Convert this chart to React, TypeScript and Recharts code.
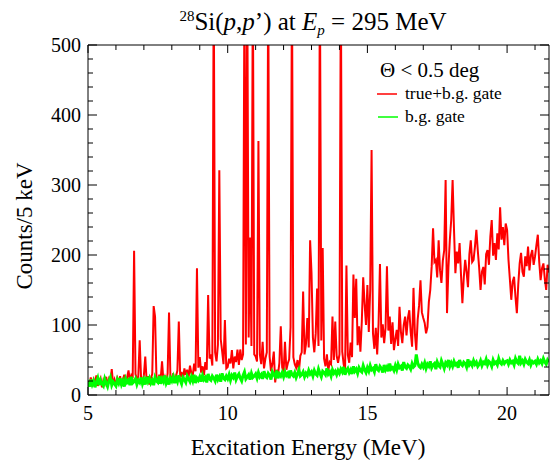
import { LineChart, Line, XAxis, YAxis } from 'recharts';

// spectrum binned in 0.05 MeV steps from 5.00 to 21.50 MeV
const E_START = 5;
const E_STEP = 0.05;

// true+b.g. gate
const redCounts = [
  20, 14, 25, 12, 22, 17, 28, 13, 19, 24, 11, 21, 16, 26, 14, 23, 18, 37, 15, 22,
  14, 24, 18, 27, 13, 22, 29, 17, 25, 35, 20, 28, 24, 206, 30, 22, 26, 78, 24, 20,
  28, 55, 19, 27, 15, 24, 30, 127, 112, 25, 18, 29, 22, 48, 20, 26, 17, 31, 118, 24,
  22, 31, 18, 27, 35, 105, 26, 33, 21, 38, 29, 36, 25, 42, 31, 28, 45, 34, 181, 39,
  54, 32, 41, 28, 47, 36, 143, 52, 58, 42, 600, 61, 48, 72, 321, 80, 63, 44, 107, 38,
  40, 52, 45, 64, 38, 55, 47, 65, 43, 65, 50, 58, 600, 72, 600, 82, 225, 70, 600, 58,
  55, 48, 363, 58, 44, 76, 38, 52, 61, 600, 55, 34, 45, 62, 18, 36, 29, 46, 98, 40,
  32, 76, 36, 45, 51, 97, 600, 54, 44, 39, 50, 34, 56, 61, 148, 58, 72, 110, 68, 221,
  174, 82, 61, 88, 152, 70, 600, 78, 210, 52, 41, 58, 35, 47, 44, 112, 50, 105, 56, 46,
  58, 600, 62, 44, 34, 185, 57, 46, 75, 54, 172, 110, 166, 71, 98, 62, 105, 168, 130, 100,
  157, 90, 150, 350, 88, 66, 96, 58, 102, 187, 82, 101, 74, 96, 184, 92, 112, 73, 104, 64,
  80, 93, 70, 126, 90, 74, 100, 112, 85, 110, 121, 90, 69, 153, 88, 64, 108, 128, 164, 118,
  110, 103, 88, 97, 133, 150, 183, 238, 190, 193, 168, 221, 178, 160, 192, 207, 307, 117, 182, 221,
  250, 307, 236, 174, 205, 188, 217, 172, 131, 168, 193, 176, 154, 201, 221, 190, 193, 212, 236, 207,
  182, 150, 176, 183, 158, 201, 207, 186, 226, 250, 199, 217, 193, 231, 208, 268, 222, 240, 214, 245,
  236, 193, 165, 136, 162, 169, 140, 117, 158, 188, 203, 176, 169, 198, 184, 212, 178, 199, 207, 186,
  198, 214, 229, 190, 164, 181, 188, 166, 150, 186, 175,
];

// b.g. gate
const greenCounts = [
  19, 12, 22, 15, 20, 11, 18, 24, 14, 21, 16, 13, 23, 17, 12, 20, 25, 14, 19, 16,
  13, 22, 17, 24, 15, 20, 12, 23, 18, 21, 14, 26, 17, 19, 23, 15, 21, 18, 25, 16,
  22, 15, 26, 19, 24, 17, 21, 14, 25, 20, 18, 27, 16, 23, 19, 28, 17, 22, 15, 24,
  20, 26, 17, 24, 19, 28, 21, 16, 25, 22, 18, 27, 23, 19, 26, 20, 29, 17, 24, 21,
  26, 19, 28, 22, 25, 18, 30, 23, 21, 27, 24, 20, 29, 22, 26, 19, 31, 24, 22, 27,
  23, 29, 21, 28, 25, 32, 22, 27, 30, 24, 20, 28, 33, 23, 26, 29, 22, 31, 25, 27,
  30, 24, 32, 26, 29, 23, 34, 27, 25, 31, 28, 22, 33, 29, 26, 35, 24, 30, 27, 32,
  26, 33, 28, 31, 24, 35, 29, 27, 32, 25, 30, 36, 27, 29, 33, 26, 31, 28, 35, 30,
  33, 27, 35, 30, 28, 37, 31, 26, 34, 32, 29, 38, 30, 33, 27, 36, 31, 34, 29, 35,
  31, 37, 33, 40, 29, 35, 38, 32, 36, 30, 41, 34, 37, 31, 39, 35, 33, 42, 36, 32,
  39, 34, 42, 36, 38, 33, 44, 37, 35, 41, 38, 32, 43, 36, 40, 34, 45, 37, 39, 35,
  42, 36, 44, 39, 41, 35, 47, 40, 38, 43, 41, 37, 45, 40, 42, 58, 46, 41, 39, 44,
  40, 46, 38, 44, 41, 48, 39, 43, 45, 37, 47, 42, 40, 49, 44, 38, 46, 43, 50, 41,
  46, 41, 48, 43, 45, 39, 50, 44, 42, 47, 45, 40, 51, 43, 46, 42, 49, 44, 47, 41,
  44, 49, 42, 47, 45, 51, 43, 48, 46, 41, 50, 45, 47, 43, 52, 46, 44, 49, 45, 48,
  49, 44, 50, 46, 48, 43, 52, 47, 45, 56, 46, 49, 44, 51, 47, 45, 50, 43, 48, 46,
  48, 44, 51, 46, 49, 45, 52, 47, 44, 50, 47,
];

const xTicks = [5, 6, 7, 8, 9, 10, 11, 12, 13, 14, 15, 16, 17, 18, 19, 20, 21];
const yTicks = [
  0, 20, 40, 60, 80, 100, 120, 140, 160, 180, 200, 220, 240, 260, 280, 300, 320, 340, 360, 380, 400,
  420, 440, 460, 480, 500,
];

const data = redCounts.map((c, i) => ({
  e: +(E_START + i * E_STEP).toFixed(2),
  red: c,
  green: greenCounts[i],
}));

const FONT = 'Liberation Serif';

const BottomTick = (props: any) => {
  const { x, y, payload } = props;
  const major = payload.value % 5 === 0;
  return (
    <g>
      <line x1={x} y1={y} x2={x} y2={y - (major ? 8 : 5)} stroke="#000" strokeWidth={1} />
      {major && (
        <text x={x} y={y + 25} textAnchor="middle" fontSize={20} style={{ fontFamily: FONT }} fill="#000">
          {payload.value}
        </text>
      )}
    </g>
  );
};

const TopTick = (props: any) => {
  const { x, y, payload } = props;
  const major = payload.value % 5 === 0;
  return <line x1={x} y1={y} x2={x} y2={y + (major ? 8 : 5)} stroke="#000" strokeWidth={1} />;
};

const LeftTick = (props: any) => {
  const { x, y, payload } = props;
  const major = payload.value % 100 === 0;
  return (
    <g>
      <line x1={x} y1={y} x2={x + (major ? 9 : 5)} y2={y} stroke="#000" strokeWidth={1} />
      {major && (
        <text x={x - 7} y={y} dy="0.35em" textAnchor="end" fontSize={20} style={{ fontFamily: FONT }} fill="#000">
          {payload.value}
        </text>
      )}
    </g>
  );
};

const RightTick = (props: any) => {
  const { x, y, payload } = props;
  const major = payload.value % 100 === 0;
  return <line x1={x} y1={y} x2={x - (major ? 9 : 5)} y2={y} stroke="#000" strokeWidth={1} />;
};

export default function App() {
  return (
    <div style={{ position: 'absolute', left: 0, top: 0, width: 553, height: 461, background: '#fff' }}>
      <LineChart width={553} height={461} data={data} margin={{ top: 35, right: 0, bottom: 36, left: 48 }}>
        <XAxis
          xAxisId="bottom"
          dataKey="e"
          type="number"
          domain={[5, 21.5]}
          allowDataOverflow
          ticks={xTicks}
          interval={0}
          height={30}
          tickSize={0}
          tickMargin={0}
          tickLine={false}
          axisLine={{ stroke: '#000' }}
          tick={BottomTick}
        />
        <XAxis
          xAxisId="top"
          orientation="top"
          dataKey="e"
          type="number"
          domain={[5, 21.5]}
          allowDataOverflow
          ticks={xTicks}
          interval={0}
          height={10}
          tickSize={0}
          tickMargin={0}
          tickLine={false}
          axisLine={{ stroke: '#000' }}
          tick={TopTick}
        />
        <YAxis
          yAxisId="left"
          type="number"
          domain={[0, 500]}
          allowDataOverflow
          ticks={yTicks}
          interval={0}
          width={40}
          tickSize={0}
          tickMargin={0}
          tickLine={false}
          axisLine={{ stroke: '#000' }}
          tick={LeftTick}
        />
        <YAxis
          yAxisId="right"
          orientation="right"
          type="number"
          domain={[0, 500]}
          allowDataOverflow
          ticks={yTicks}
          interval={0}
          width={4}
          tickSize={0}
          tickMargin={0}
          tickLine={false}
          axisLine={{ stroke: '#000' }}
          tick={RightTick}
        />
        <Line
          xAxisId="bottom"
          yAxisId="left"
          type="linear"
          dataKey="red"
          stroke="#FF0000"
          strokeWidth={2}
          strokeLinejoin="miter"
          dot={false}
          isAnimationActive={false}
        />
        <Line
          xAxisId="bottom"
          yAxisId="left"
          type="linear"
          dataKey="green"
          stroke="#00FF00"
          strokeWidth={3}
          dot={false}
          isAnimationActive={false}
        />
      </LineChart>

      <svg
        width={553}
        height={461}
        style={{ position: 'absolute', left: 0, top: 0, pointerEvents: 'none', fontFamily: FONT }}
      >
        <text x={313} y={30} textAnchor="middle" fontSize={25} fill="#000">
          <tspan fontSize={15} dy={-9}>28</tspan>
          <tspan dy={9}>Si(</tspan>
          <tspan fontStyle="italic">p</tspan>
          <tspan>,</tspan>
          <tspan fontStyle="italic">p</tspan>
          <tspan>’) at </tspan>
          <tspan fontStyle="italic">E</tspan>
          <tspan fontStyle="italic" fontSize={15} dy={5}>p</tspan>
          <tspan dy={-5}> = 295 MeV</tspan>
        </text>

        <text x={308} y={455} textAnchor="middle" fontSize={23} fill="#000">
          Excitation Energy (MeV)
        </text>

        <text x={32} y={226} textAnchor="middle" fontSize={23} fill="#000" transform="rotate(-90, 32, 226)">
          Counts/5 keV
        </text>

        <text x={380} y={77} fontSize={21} fill="#000">
          Θ &lt; 0.5 deg
        </text>
        <line x1={377} y1={94} x2={397} y2={94} stroke="#FF0000" strokeWidth={1.5} />
        <text x={405} y={99} fontSize={17.5} fill="#000">
          true+b.g. gate
        </text>
        <line x1={378} y1={117} x2={398} y2={117} stroke="#00FF00" strokeWidth={1.5} />
        <text x={405} y={122} fontSize={17.5} fill="#000">
          b.g. gate
        </text>
      </svg>
    </div>
  );
}
